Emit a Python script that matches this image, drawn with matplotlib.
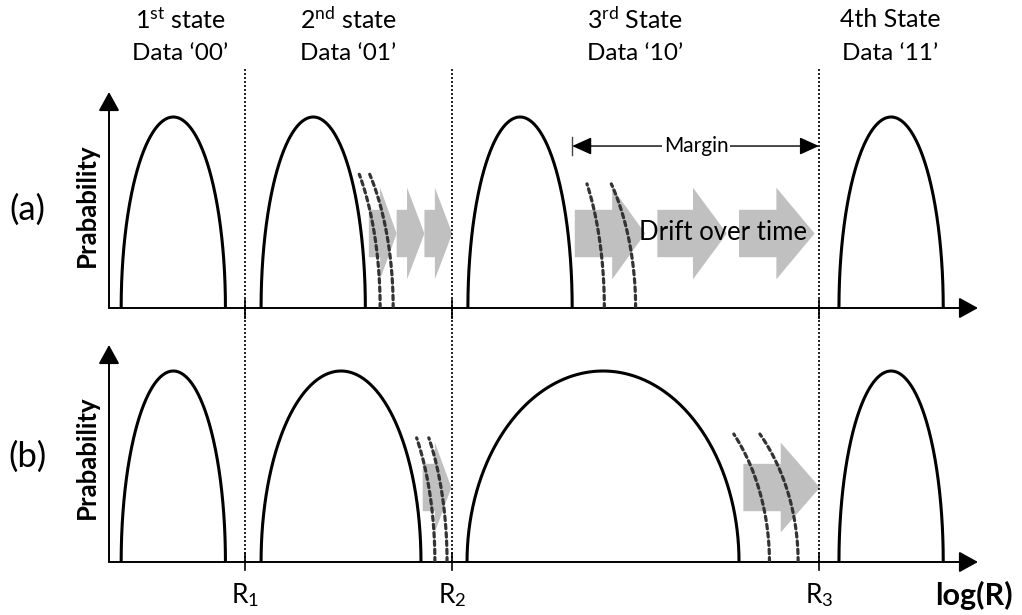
import numpy as np
import matplotlib.pyplot as plt

plt.rcParams['font.family'] = ['Lato', 'DejaVu Sans']
plt.rcParams['mathtext.fontset'] = 'custom'
plt.rcParams['mathtext.rm'] = 'Lato'
plt.rcParams['mathtext.it'] = 'Lato:italic'
plt.rcParams['mathtext.bf'] = 'Lato:bold'

# x axis: log(R) in arbitrary units 0..10, y: probability relative to peak
r_bounds = [1.565, 3.947, 8.170]
r_labels = ['R$_1$', 'R$_2$', 'R$_3$']

state_x = [0.82, 2.75, 6.05, 8.99]
state_names = ['1$^{\\mathrm{st}}$ state', '2$^{\\mathrm{nd}}$ state',
               '3$^{\\mathrm{rd}}$ State', '4th State']
state_data = ['Data \u201800\u2019', 'Data \u201801\u2019',
              'Data \u201810\u2019', 'Data \u201811\u2019']

# distributions (center, half width)
a_centers = [0.74, 2.35, 4.73, 9.00]
a_halfw = [0.60, 0.60, 0.60, 0.60]
b_centers = [0.74, 2.67, 5.685, 9.00]
b_halfw = [0.60, 0.92, 1.565, 0.60]

# drifted tails (x at bottom, x at top, top height)
a_drift_bottom = [3.12, 3.27, 5.70, 6.06]
a_drift_top = [2.88, 3.00, 5.50, 5.78]
a_drift_h = [0.70, 0.70, 0.65, 0.65]
b_drift_bottom = [3.75, 3.89, 7.60, 7.93]
b_drift_top = [3.54, 3.68, 7.19, 7.49]
b_drift_h = [0.65, 0.65, 0.67, 0.67]

# grey drift arrows (start, neck, tip)
a_arr_start = [2.99, 3.31, 3.63, 5.36, 6.31, 7.25]
a_arr_neck = [3.12, 3.43, 3.75, 5.79, 6.72, 7.68]
a_arr_tip = [3.31, 3.63, 3.95, 6.17, 7.11, 8.12]
b_arr_start = [3.61, 7.30]
b_arr_neck = [3.75, 7.73]
b_arr_tip = [3.94, 8.18]

margin_from = 5.33
margin_to = 8.17
margin_y = 0.848


def dome(ax, c, hw):
    th = np.linspace(0, np.pi, 300)
    ax.plot(c + hw * np.cos(th), np.sin(th), color='black', lw=2.2,
            solid_capstyle='butt', zorder=3)


def drift(ax, xb, xt, ht):
    h = np.linspace(0, ht, 100)
    f = (1 - np.sqrt(1 - h ** 2)) / (1 - np.sqrt(1 - ht ** 2))
    ax.plot(xb - (xb - xt) * f, h, color='#333333', lw=2.3,
            linestyle=(0, (1.4, 1.2)), dash_capstyle='round', zorder=4)


def grey_arrow(ax, s, n, t, c=0.39, body=0.124, head=0.24):
    xs = [s, n, n, t, n, n, s]
    ys = [c - body, c - body, c - head, c, c + head, c + body, c + body]
    ax.fill(xs, ys, color='#c0c0c0', lw=0, zorder=1)


def frame(ax, ytop):
    ax.set_xlim(0, 10)
    ax.set_ylim(0, ytop)
    ax.axis('off')
    style = '-|>,head_length=0.58,head_width=0.32'
    ax.annotate('', xy=(1, 0), xytext=(0, 0), xycoords='axes fraction',
                arrowprops=dict(arrowstyle=style, mutation_scale=20, lw=1.4,
                                color='black', shrinkA=0, shrinkB=0))
    ax.annotate('', xy=(0, 1), xytext=(0, 0), xycoords='axes fraction',
                arrowprops=dict(arrowstyle=style, mutation_scale=20, lw=1.4,
                                color='black', shrinkA=0, shrinkB=0))


fig = plt.figure(figsize=(10.22, 6.15), dpi=100)
ax_a = fig.add_axes([109 / 1022, 1 - 308 / 615, 869 / 1022, 216 / 615])
ax_b = fig.add_axes([109 / 1022, 1 - 562 / 615, 869 / 1022, 217 / 615])
frame(ax_a, 216 / 191)
frame(ax_b, 217 / 191)

for c, hw in zip(a_centers, a_halfw):
    dome(ax_a, c, hw)
for c, hw in zip(b_centers, b_halfw):
    dome(ax_b, c, hw)
for xb, xt, ht in zip(a_drift_bottom, a_drift_top, a_drift_h):
    drift(ax_a, xb, xt, ht)
for xb, xt, ht in zip(b_drift_bottom, b_drift_top, b_drift_h):
    drift(ax_b, xb, xt, ht)
for s, n, t in zip(a_arr_start, a_arr_neck, a_arr_tip):
    grey_arrow(ax_a, s, n, t)
for s, n, t in zip(b_arr_start, b_arr_neck, b_arr_tip):
    grey_arrow(ax_b, s, n, t, head=0.235)

# boundaries R1..R3
for r in r_bounds:
    ax_a.axvline(r, ymin=-0.05, ymax=1.111, color='black', lw=1.2,
                 linestyle=(0, (1.2, 1.2)), clip_on=False, zorder=2)
    ax_b.axvline(r, ymin=0, ymax=1.165, color='black', lw=1.2,
                 linestyle=(0, (1.2, 1.2)), clip_on=False, zorder=2)
    ax_a.axvline(r, ymin=-0.042, ymax=0.037, color='black', lw=1.2, clip_on=False)
    ax_b.axvline(r, ymin=-0.037, ymax=0.041, color='black', lw=1.2, clip_on=False)

tb = ax_b.get_xaxis_transform()
for r, lab in zip(r_bounds, r_labels):
    ax_b.text(r, -0.152, lab, transform=tb, ha='center', va='center', fontsize=19)

for x, n, d in zip(state_x, state_names, state_data):
    ax_a.text(x, 1.508, n, ha='center', va='center', fontsize=18, clip_on=False)
    ax_a.text(x, 1.335, d, ha='center', va='center', fontsize=17.5, clip_on=False)

# margin
ax_a.annotate('', xy=(margin_to, margin_y), xytext=(margin_from, margin_y),
              arrowprops=dict(arrowstyle='<|-|>,head_length=0.6,head_width=0.27',
                              mutation_scale=20, lw=1.0, color='black',
                              shrinkA=0, shrinkB=0), zorder=5)
ax_a.plot([margin_from, margin_from], [0.80, 0.895], color='#444444', lw=1.0)
ax_a.text(6.755, margin_y, 'Margin', ha='center', va='center', fontsize=15,
          zorder=6, bbox=dict(facecolor='white', edgecolor='none', pad=1.5))

ax_a.text(7.07, 0.393, 'Drift over time', ha='center', va='center',
          fontsize=18.5, zorder=6)

fig.text(27 / 1022, 1 - 210 / 615, '(a)', ha='center', va='center', fontsize=25)
fig.text(27 / 1022, 1 - 457 / 615, '(b)', ha='center', va='center', fontsize=25)
fig.text(87 / 1022, 1 - 205 / 615, 'Prabability', rotation=90, ha='center',
         va='center', fontsize=18.5, fontweight='bold')
fig.text(87 / 1022, 1 - 457 / 615, 'Prabability', rotation=90, ha='center',
         va='center', fontsize=18.5, fontweight='bold')
fig.text(1013 / 1022, 1 - 595 / 615, 'log(R)', ha='right', va='center',
         fontsize=22, fontweight='bold')

fig.savefig('out.png', dpi=100)
